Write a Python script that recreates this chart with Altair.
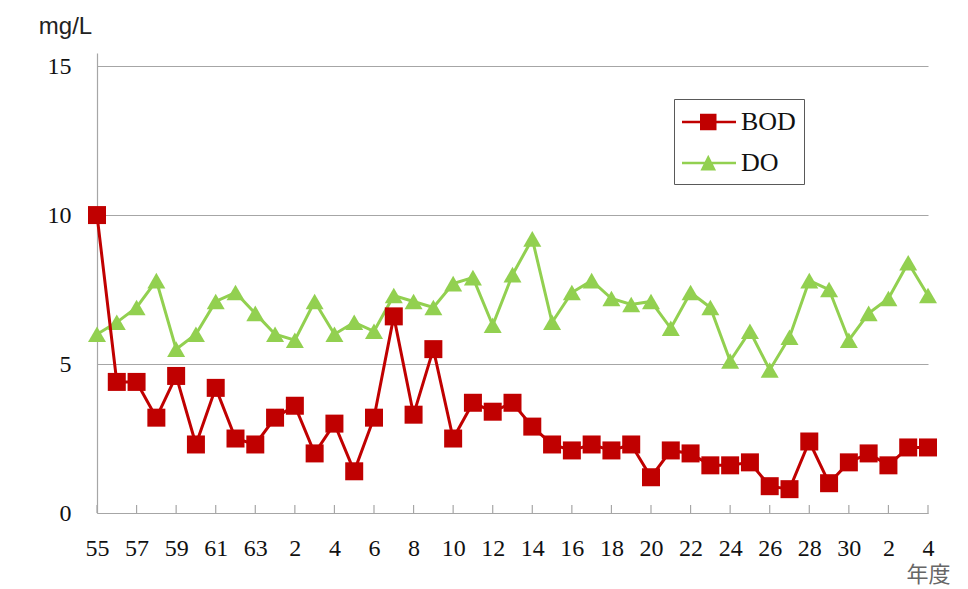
import json
import altair as alt
import pandas as pd

# ---- data ----
year_labels = ["55", "56", "57", "58", "59", "60", "61", "62", "63",
               "1", "2", "3", "4", "5", "6", "7", "8", "9", "10",
               "11", "12", "13", "14", "15", "16", "17", "18", "19", "20",
               "21", "22", "23", "24", "25", "26", "27", "28", "29", "30",
               "1", "2", "3", "4"]
bod_values = [10.0, 4.4, 4.4, 3.2, 4.6, 2.3, 4.2, 2.5, 2.3,
              3.2, 3.6, 2.0, 3.0, 1.4, 3.2, 6.6, 3.3, 5.5, 2.5,
              3.7, 3.4, 3.7, 2.9, 2.3, 2.1, 2.3, 2.1, 2.3, 1.2,
              2.1, 2.0, 1.6, 1.6, 1.7, 0.9, 0.8, 2.4, 1.0, 1.7,
              2.0, 1.6, 2.2, 2.2]
do_values = [6.0, 6.4, 6.9, 7.8, 5.5, 6.0, 7.1, 7.4, 6.7,
             6.0, 5.8, 7.1, 6.0, 6.4, 6.1, 7.3, 7.1, 6.9, 7.7,
             7.9, 6.3, 8.0, 9.2, 6.4, 7.4, 7.8, 7.2, 7.0, 7.1,
             6.2, 7.4, 6.9, 5.1, 6.1, 4.8, 5.9, 7.8, 7.5, 5.8,
             6.7, 7.2, 8.4, 7.3]
series_names = ["BOD", "DO"]
x_tick_index = [0, 2, 4, 6, 8, 10, 12, 14, 16, 18, 20, 22, 24, 26, 28, 30,
                32, 34, 36, 38, 40, 42]
y_tick_values = [0, 5, 10, 15]

# ---- styles ----
RED = "#C00000"
GREEN = "#92D050"
GRID = "#A6A6A6"
SERIF = "Liberation Serif"
W, H = 831, 460

rows = []
for i, lab in enumerate(year_labels):
    rows.append({"idx": i, "year": lab, "series": "BOD", "value": bod_values[i]})
    rows.append({"idx": i, "year": lab, "series": "DO", "value": do_values[i]})
df = pd.DataFrame(rows)
ticks_df = pd.DataFrame({"idx": x_tick_index})

label_expr = json.dumps(year_labels) + "[datum.value]"

x_axis = alt.Axis(
    values=x_tick_index, labelExpr=label_expr, ticks=False, tickSize=0,
    grid=False, domainColor=GRID, domainWidth=1.2,
    labelFont=SERIF, labelFontSize=24, labelColor="#111",
    labelPadding=35, labelBaseline="middle", labelOverlap=False,
    labelSeparation=0, labelFlush=False, labelBound=False,
    title="年度", titleX=831, titleY=68, titleAlign="center",
    titleBaseline="alphabetic", titleFont="Noto Sans CJK JP",
    titleFontSize=22, titleFontWeight="normal", titleColor="#666666",
)
x_scale = alt.Scale(domain=[0, len(year_labels) - 1], nice=False, zero=False)
x_enc = alt.X("idx:Q", scale=x_scale, axis=x_axis)

y_enc = alt.Y(
    "value:Q",
    scale=alt.Scale(domain=[0, 15.44], nice=False, zero=True),
    axis=alt.Axis(
        values=y_tick_values, ticks=False, tickSize=0, grid=True,
        gridColor=GRID, gridWidth=1.2, domainColor=GRID, domainWidth=1.2,
        labelFont=SERIF, labelFontSize=24, labelColor="#111",
        labelPadding=26,
        title="mg/L", titleAngle=0, titleX=-32, titleY=-20,
        titleAlign="center", titleBaseline="alphabetic",
        titleFont="Liberation Sans", titleFontSize=24,
        titleFontWeight="normal", titleColor="#222222",
    ),
)

base = alt.Chart(df).encode(x=x_enc, y=y_enc)

tick_layer = alt.Chart(ticks_df).mark_rule(color=GRID, strokeWidth=1.2).encode(
    x=x_enc, y=alt.value(H), y2=alt.value(H - 8)
)

do_line = base.transform_filter(alt.datum.series == "DO").mark_line(
    color=GREEN, strokeWidth=3)
do_pts = base.transform_filter(alt.datum.series == "DO").mark_point(
    shape="triangle-up", filled=True, color=GREEN, size=324, opacity=1)
bod_line = base.transform_filter(alt.datum.series == "BOD").mark_line(
    color=RED, strokeWidth=3)
bod_pts = base.transform_filter(alt.datum.series == "BOD").mark_point(
    shape="square", filled=True, color=RED, size=324, opacity=1)

BOD_SYMBOL = "M-1,-0.09H2.6V0.09H-1Z M0.2,-0.55H1.3V0.55H0.2Z"
DO_SYMBOL = "M-1,-0.09H2.6V0.09H-1Z M0.75,-0.55L1.27,0.5H0.23Z"

legend_cfg = dict(
    orient="none", legendX=577, legendY=46, title=None,
    strokeColor="#595959", fillColor="white", padding=8,
    symbolSize=900, symbolOpacity=1, symbolStrokeWidth=0,
    rowPadding=13, labelOffset=29,
    labelFont=SERIF, labelFontSize=26, labelColor="#111",
)
legend_layer = base.mark_point(filled=True, opacity=0, size=900, strokeWidth=0).encode(
    color=alt.Color("series:N", scale=alt.Scale(domain=series_names, range=[RED, GREEN]),
                    legend=alt.Legend(**legend_cfg)),
    shape=alt.Shape("series:N", scale=alt.Scale(domain=series_names, range=[BOD_SYMBOL, DO_SYMBOL]),
                    legend=alt.Legend(**legend_cfg)),
)

chart = alt.layer(
    tick_layer, do_line, do_pts, bod_line, bod_pts, legend_layer
).properties(
    width=W, height=H,
    autosize="none",
    padding={"left": 89, "top": 45, "right": 32, "bottom": 74},
    background="white",
).configure_view(strokeWidth=0)

chart.save("out.html", embed_options={"renderer": "svg", "actions": False})
